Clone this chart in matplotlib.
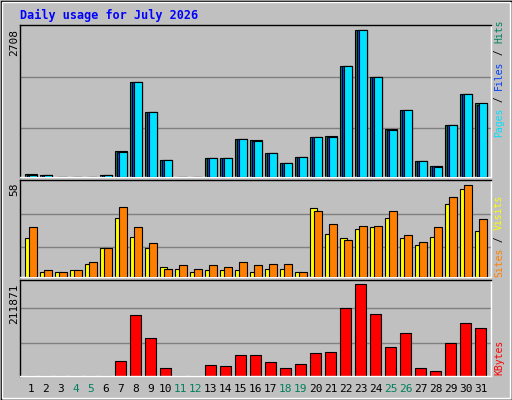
import matplotlib
matplotlib.use("Agg")
import matplotlib.pyplot as plt
from matplotlib.patches import Rectangle
import numpy as np

days = list(range(1, 32))
weekend_days = [4, 5, 11, 12, 18, 19, 25, 26]
hits = [61, 43, 0, 0, 0, 43, 484, 1751, 1200, 318, 0, 0, 355, 355, 704, 686, 447, 263, 374, 741,
        759, 2045, 2708, 1843, 888, 1237, 300, 208, 961, 1531, 1366]
files = [43, 43, 0, 0, 0, 43, 465, 1751, 1200, 318, 0, 0, 355, 355, 704, 667, 447, 263, 374, 741,
         741, 2045, 2708, 1843, 870, 1237, 300, 208, 961, 1531, 1329]
pages = [43, 43, 0, 0, 0, 43, 465, 1751, 1200, 318, 0, 0, 355, 355, 704, 667, 447, 263, 374, 741,
         741, 2045, 2708, 1843, 870, 1237, 300, 190, 961, 1531, 1366]
sites = [24.7, 3.4, 3.4, 4.6, 8.4, 18.4, 37.3, 25.3, 18.4, 6.5, 5.2, 3.4, 4.6, 4.6, 4.6, 3.4, 5.2, 5.2,
         3.4, 43.6, 27.2, 24.7, 30.4, 31.6, 37.3, 24.7, 20.3, 25.3, 46.1, 55.5, 29.1]
visits = [31.6, 4.6, 3.4, 4.6, 9.6, 18.4, 44.2, 31.6, 21.6, 5.2, 7.7, 5.2, 7.7, 6.5, 9.6, 7.7, 8.4, 8.4,
          3.4, 41.7, 33.5, 23.5, 32.2, 32.2, 41.7, 26.6, 22.2, 31.6, 50.5, 58, 36.6]
kbytes = [0, 0, 0, 0, 0, 0, 35400, 141800, 88600, 19300, 0, 0, 26200, 23900, 49300, 49300, 33100,
          19300, 28500, 53900, 56200, 157900, 211871, 144100, 67800, 100200, 19300, 12300, 77000,
          123300, 111700]
max_hits, max_visits, max_kbytes = 2708, 58, 211871

BG = "#C0C0C0"
GRID = "#808080"
C_HITS, C_FILES, C_PAGES = "#00805C", "#0040FF", "#00E0FF"
C_SITES, C_VISITS, C_KB = "#FFFF00", "#FF8000", "#FF0000"
MONO = "DejaVu Sans Mono"

fig = plt.figure(figsize=(5.12, 4.0), dpi=100, facecolor=BG)
W, H = 512, 400
# outer bevel
fig.patches.append(Rectangle((0.5/W, 0.5/H), 1-1/W, 1-1/H, transform=fig.transFigure,
                             fill=False, ec="black", lw=1))
fig.patches.append(Rectangle((2/W, 2/H), 1-4/W, 1-4/H, transform=fig.transFigure,
                             fill=False, ec="white", lw=1))

x = np.array(days)
left, width = 20/W, 471/W
xlim = (0.277, 0.277 + 471/15)

def mkax(top_px, bot_px, ytop):
    ax = fig.add_axes([left, 1 - bot_px/H, width, (bot_px - top_px)/H])
    ax.set_facecolor(BG)
    ax.set_xlim(*xlim)
    ax.set_ylim(0, ytop)
    ax.set_xticks([]); ax.set_yticks([])
    for s in ax.spines.values():
        s.set_color("black"); s.set_linewidth(1)
    ax.spines["right"].set_color("white")
    ax.spines["bottom"].set_color("white")
    return ax

# top panel
ax1 = mkax(25, 177, max_hits * 152 / 147.4)
for f in (0.335, 0.68):
    ax1.axhline(max_hits * f, color=GRID, lw=1, zorder=0)
ax1.bar(x - 0.39, hits, width=0.78, align="edge", color=C_HITS, ec="black", lw=0.8, zorder=2)
ax1.bar(x - 0.26, files, width=0.65, align="edge", color=C_FILES, ec="black", lw=0.8, zorder=3)
ax1.bar(x - 0.12, pages, width=0.51, align="edge", color=C_PAGES, ec="black", lw=0.8, zorder=4)

# middle panel
ax2 = mkax(180, 277, max_visits * 97 / 92.4)
for f in (0.33, 0.686):
    ax2.axhline(max_visits * f, color=GRID, lw=1, zorder=0)
ax2.bar(x - 0.39, sites, width=0.45, align="edge", color=C_SITES, ec="black", lw=0.8, zorder=2)
ax2.bar(x - 0.10, visits, width=0.49, align="edge", color=C_VISITS, ec="black", lw=0.8, zorder=3)

# bottom panel
ax3 = mkax(280, 376, max_kbytes * 96 / 91.7)
for f in (0.36, 0.745):
    ax3.axhline(max_kbytes * f, color=GRID, lw=1, zorder=0)
ax3.bar(x - 0.36, kbytes, width=0.71, align="edge", color=C_KB, ec="black", lw=0.8, zorder=2)

for d in days:
    fig.text((20 + (d - xlim[0]) * 15) / W, 1 - 389/H, str(d), ha="center", va="center",
             fontsize=8, family=MONO, color=C_HITS if d in weekend_days else "black")

fig.text(20/W, 1 - 15/H, "Daily usage for July 2026", ha="left", va="center",
         fontsize=8.5, family=MONO, weight="bold", color="#0000FF")

for txt, ypx in ((str(max_hits), 29), (str(max_visits), 182), (str(max_kbytes), 284)):
    fig.text(14/W, 1 - ypx/H, txt, rotation=90, ha="center", va="top", fontsize=8, family=MONO)

fig.canvas.draw()
r = fig.canvas.get_renderer()

def stack(parts, start_px, anchor_bottom=True):
    # parts listed bottom-to-top
    y = 1 - start_px/H
    for t, c in parts:
        tx = fig.text(499/W, y, t, rotation=90, ha="center", va="bottom", fontsize=7,
                      family=MONO, color=c)
        ext = tx.get_window_extent(r)
        y += ext.height / H

stack([("Pages", C_PAGES), (" / ", "black"), ("Files", C_FILES), (" / ", "black"), ("Hits", C_HITS)], 137)
stack([("Sites", C_VISITS), (" / ", "black"), ("Visits", C_SITES)], 277)
stack([("KBytes", C_KB)], 375)

fig.savefig("out.png", dpi=100, facecolor=BG)
